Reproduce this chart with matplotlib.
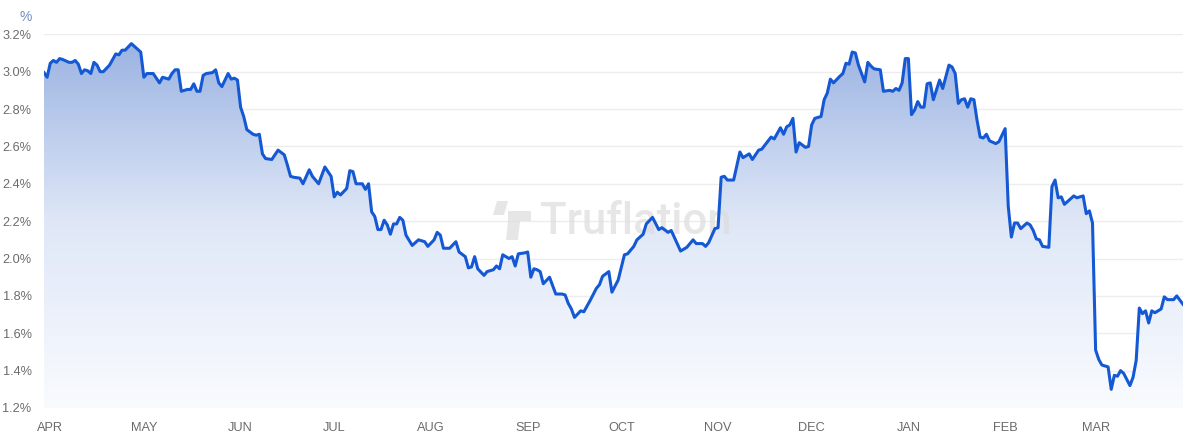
import numpy as np
import matplotlib
matplotlib.use("Agg")
import matplotlib.pyplot as plt
import matplotlib.dates as mdates
from matplotlib.colors import LinearSegmentedColormap
from matplotlib.patches import Polygon, PathPatch
from matplotlib.ticker import FuncFormatter, MultipleLocator

# ---- data: days since 2023-04-01 and inflation rate (%) ----
start_date = "2023-04-01"
days = [-2, -1, 0, 1, 2, 3, 4, 6, 7, 8, 9, 10, 11, 12, 13, 14, 15, 16, 17, 19,
        21, 22, 23, 24, 26, 27, 29, 30, 31, 33, 34, 35, 36, 38, 39, 40, 41, 42, 44, 45,
        46, 47, 48, 49, 50, 52, 53, 54, 55, 56, 57, 58, 59, 60, 61, 62, 63, 65, 66, 67,
        68, 69, 71, 73, 75, 76, 77, 78, 80, 81, 83, 84, 86, 88, 90, 91, 92, 93, 95, 96,
        97, 98, 100, 101, 102, 103, 104, 105, 106, 107, 108, 109, 110, 111, 112, 113, 114, 116, 118, 120,
        121, 123, 124, 125, 126, 128, 130, 131, 133, 134, 135, 136, 137, 139, 140, 142, 143, 144, 145, 147,
        148, 149, 150, 152, 153, 154, 155, 156, 157, 158, 160, 162, 164, 165, 166, 167, 168, 170, 171, 173,
        175, 176, 177, 179, 180, 182, 184, 185, 187, 188, 190, 191, 193, 195, 196, 198, 199, 202, 204, 206,
        207, 209, 210, 211, 213, 214, 215, 216, 217, 219, 221, 222, 224, 225, 227, 228, 231, 232, 234, 235,
        236, 237, 238, 239, 240, 242, 243, 244, 245, 247, 248, 249, 250, 251, 253, 254, 255, 256, 257, 258,
        259, 261, 262, 263, 264, 266, 267, 269, 270, 271, 272, 273, 274, 275, 276, 277, 278, 279, 280, 281,
        282, 283, 285, 286, 288, 289, 290, 291, 292, 293, 294, 295, 296, 297, 298, 299, 300, 301, 303, 304,
        306, 307, 308, 309, 310, 311, 313, 314, 315, 316, 317, 318, 320, 321, 322, 323, 324, 325, 327, 328,
        329, 331, 332, 333, 334, 335, 336, 337, 339, 340, 341, 342, 343, 344, 346, 347, 348, 349, 350, 351,
        352, 353, 354, 356, 357, 358, 360, 361, 363]
rate = [2.995, 2.97, 3.045, 3.06, 3.05, 3.07, 3.065, 3.05, 3.05, 3.06, 3.04, 2.99, 3.01, 3.005, 2.99, 3.05, 3.035, 3.0, 3.0, 3.035,
        3.095, 3.09, 3.115, 3.115, 3.15, 3.135, 3.105, 2.97, 2.99, 2.99, 2.965, 2.94, 2.97, 2.96, 2.99, 3.01, 3.01, 2.895, 2.905, 2.905,
        2.935, 2.895, 2.895, 2.98, 2.99, 2.995, 3.01, 2.94, 2.92, 2.955, 2.99, 2.96, 2.965, 2.955, 2.81, 2.76, 2.69, 2.665, 2.66, 2.665,
        2.56, 2.535, 2.53, 2.58, 2.555, 2.5, 2.44, 2.435, 2.43, 2.4, 2.475, 2.44, 2.4, 2.49, 2.44, 2.33, 2.355, 2.34, 2.375, 2.47,
        2.465, 2.4, 2.4, 2.37, 2.4, 2.25, 2.225, 2.155, 2.155, 2.205, 2.18, 2.13, 2.185, 2.185, 2.22, 2.205, 2.125, 2.07, 2.1, 2.09,
        2.065, 2.1, 2.14, 2.125, 2.055, 2.055, 2.09, 2.035, 2.01, 1.95, 1.955, 2.01, 1.945, 1.91, 1.93, 1.94, 1.96, 1.945, 2.02, 2.0,
        2.01, 1.96, 2.025, 2.03, 2.035, 1.9, 1.945, 1.94, 1.93, 1.865, 1.9, 1.81, 1.81, 1.805, 1.76, 1.73, 1.685, 1.72, 1.715, 1.775,
        1.84, 1.86, 1.905, 1.93, 1.82, 1.885, 2.02, 2.025, 2.065, 2.1, 2.13, 2.185, 2.22, 2.155, 2.165, 2.14, 2.15, 2.04, 2.06, 2.1,
        2.08, 2.08, 2.065, 2.085, 2.16, 2.165, 2.435, 2.44, 2.42, 2.42, 2.57, 2.54, 2.56, 2.53, 2.58, 2.585, 2.65, 2.64, 2.7, 2.665,
        2.705, 2.715, 2.75, 2.57, 2.62, 2.595, 2.6, 2.715, 2.75, 2.76, 2.85, 2.885, 2.96, 2.94, 2.975, 2.99, 3.045, 3.04, 3.105, 3.1,
        3.035, 2.945, 3.05, 3.03, 3.015, 3.01, 2.895, 2.9, 2.895, 2.91, 2.9, 2.94, 3.07, 3.07, 2.77, 2.795, 2.84, 2.81, 2.81, 2.935,
        2.94, 2.85, 2.955, 2.91, 3.035, 3.025, 2.99, 2.83, 2.85, 2.855, 2.81, 2.855, 2.85, 2.74, 2.65, 2.645, 2.665, 2.63, 2.615, 2.625,
        2.695, 2.28, 2.115, 2.19, 2.19, 2.16, 2.19, 2.18, 2.15, 2.105, 2.1, 2.065, 2.06, 2.385, 2.42, 2.325, 2.33, 2.29, 2.32, 2.335,
        2.325, 2.335, 2.24, 2.255, 2.19, 1.51, 1.46, 1.43, 1.42, 1.3, 1.375, 1.37, 1.4, 1.385, 1.32, 1.365, 1.455, 1.735, 1.705, 1.72,
        1.655, 1.72, 1.71, 1.73, 1.795, 1.78, 1.78, 1.8, 1.755]

y_ticks = [1.2, 1.4, 1.6, 1.8, 2.0, 2.2, 2.4, 2.6, 2.8, 3.0, 3.2]
unit_label = "%"
watermark = "Truflation"

# ---- figure ----
W, H = 1190, 437
fig = plt.figure(figsize=(W / 100, H / 100), dpi=100)
fig.patch.set_facecolor("white")

ax_l, ax_r, ax_t, ax_b = 44, 1183, 34.3, 408
ax = fig.add_axes([ax_l / W, 1 - ax_b / H, (ax_r - ax_l) / W, (ax_b - ax_t) / H])

dates = np.datetime64(start_date) + np.array(days).astype("timedelta64[D]")
xnum = mdates.date2num(dates)
vals = np.array(rate)

ymin, ymax = y_ticks[0], y_ticks[-1]
ax.set_xlim(xnum[0], xnum[-1])
ax.set_ylim(ymin, ymax)

# gradient fill under the line
cmap = LinearSegmentedColormap.from_list("g", ["#f9fbfe", "#dfe7f7", "#98b1e1"])
grad = np.linspace(0, 1, 256).reshape(-1, 1)
im = ax.imshow(grad, extent=[xnum[0], xnum[-1], ymin, ymax], origin="lower",
               aspect="auto", cmap=cmap, zorder=1, interpolation="bicubic")
poly = ax.fill_between(xnum, vals, ymin, color="none", lw=0)
clip_patch = PathPatch(poly.get_paths()[0], transform=ax.transData,
                       facecolor="none", edgecolor="none")
ax.add_patch(clip_patch)
im.set_clip_path(clip_patch)

# grid
for t in y_ticks:
    if t == ymin:
        ax.axhline(t, color="#e2e2e2", lw=1.6, zorder=0.5)
    else:
        ax.axhline(t, color="#ededed", lw=1.0, zorder=0.5)

# watermark (between fill and line)
wm_color = "#dcdcdc"
ax.text(540 / W, 1 - 222 / H, watermark, ha="left", va="center", fontsize=31.5,
        color=wm_color, alpha=0.7, family="Roboto", fontweight="medium",
        transform=fig.transFigure, zorder=3, clip_on=False)

def px(x, y):
    return (x / W, 1 - y / H)

logo1 = Polygon([px(497, 201), px(508, 201), px(504, 215), px(493, 215)], closed=True,
                transform=fig.transFigure, facecolor=wm_color, edgecolor="none",
                alpha=0.7, zorder=3, clip_on=False)
logo2 = Polygon([px(508, 211), px(531, 211), px(531, 221), px(520, 221), px(518, 240),
                 px(506, 240), px(508, 221)], closed=True,
                transform=fig.transFigure, facecolor=wm_color, edgecolor="none",
                alpha=0.7, zorder=3, clip_on=False)
ax.add_patch(logo1)
ax.add_patch(logo2)

# line
ax.plot(xnum, vals, color="#1459d3", lw=2.2, solid_joinstyle="round", zorder=4)

# axes styling
for s in ax.spines.values():
    s.set_visible(False)
ax.set_facecolor("none")
ax.yaxis.set_major_locator(MultipleLocator(0.2))
ax.yaxis.set_major_formatter(FuncFormatter(lambda v, p: f"{v:.1f}%"))
ax.xaxis.set_major_locator(mdates.MonthLocator())
ax.xaxis.set_major_formatter(FuncFormatter(lambda v, p: mdates.num2date(v).strftime("%b").upper()))
ax.tick_params(axis="y", length=0, pad=9, labelsize=9.2, labelcolor="#6b6b6b")
ax.tick_params(axis="x", length=0, pad=10, labelsize=9.2, labelcolor="#6b6b6b")
for lab in ax.get_xticklabels() + ax.get_yticklabels():
    lab.set_fontfamily("Liberation Sans")

# unit label
fig.text(26 / W, 1 - 17 / H, unit_label, ha="center", va="center", fontsize=10,
         color="#6f8fc0", family="Liberation Sans")

fig.savefig("out.png", dpi=100, facecolor="white")
